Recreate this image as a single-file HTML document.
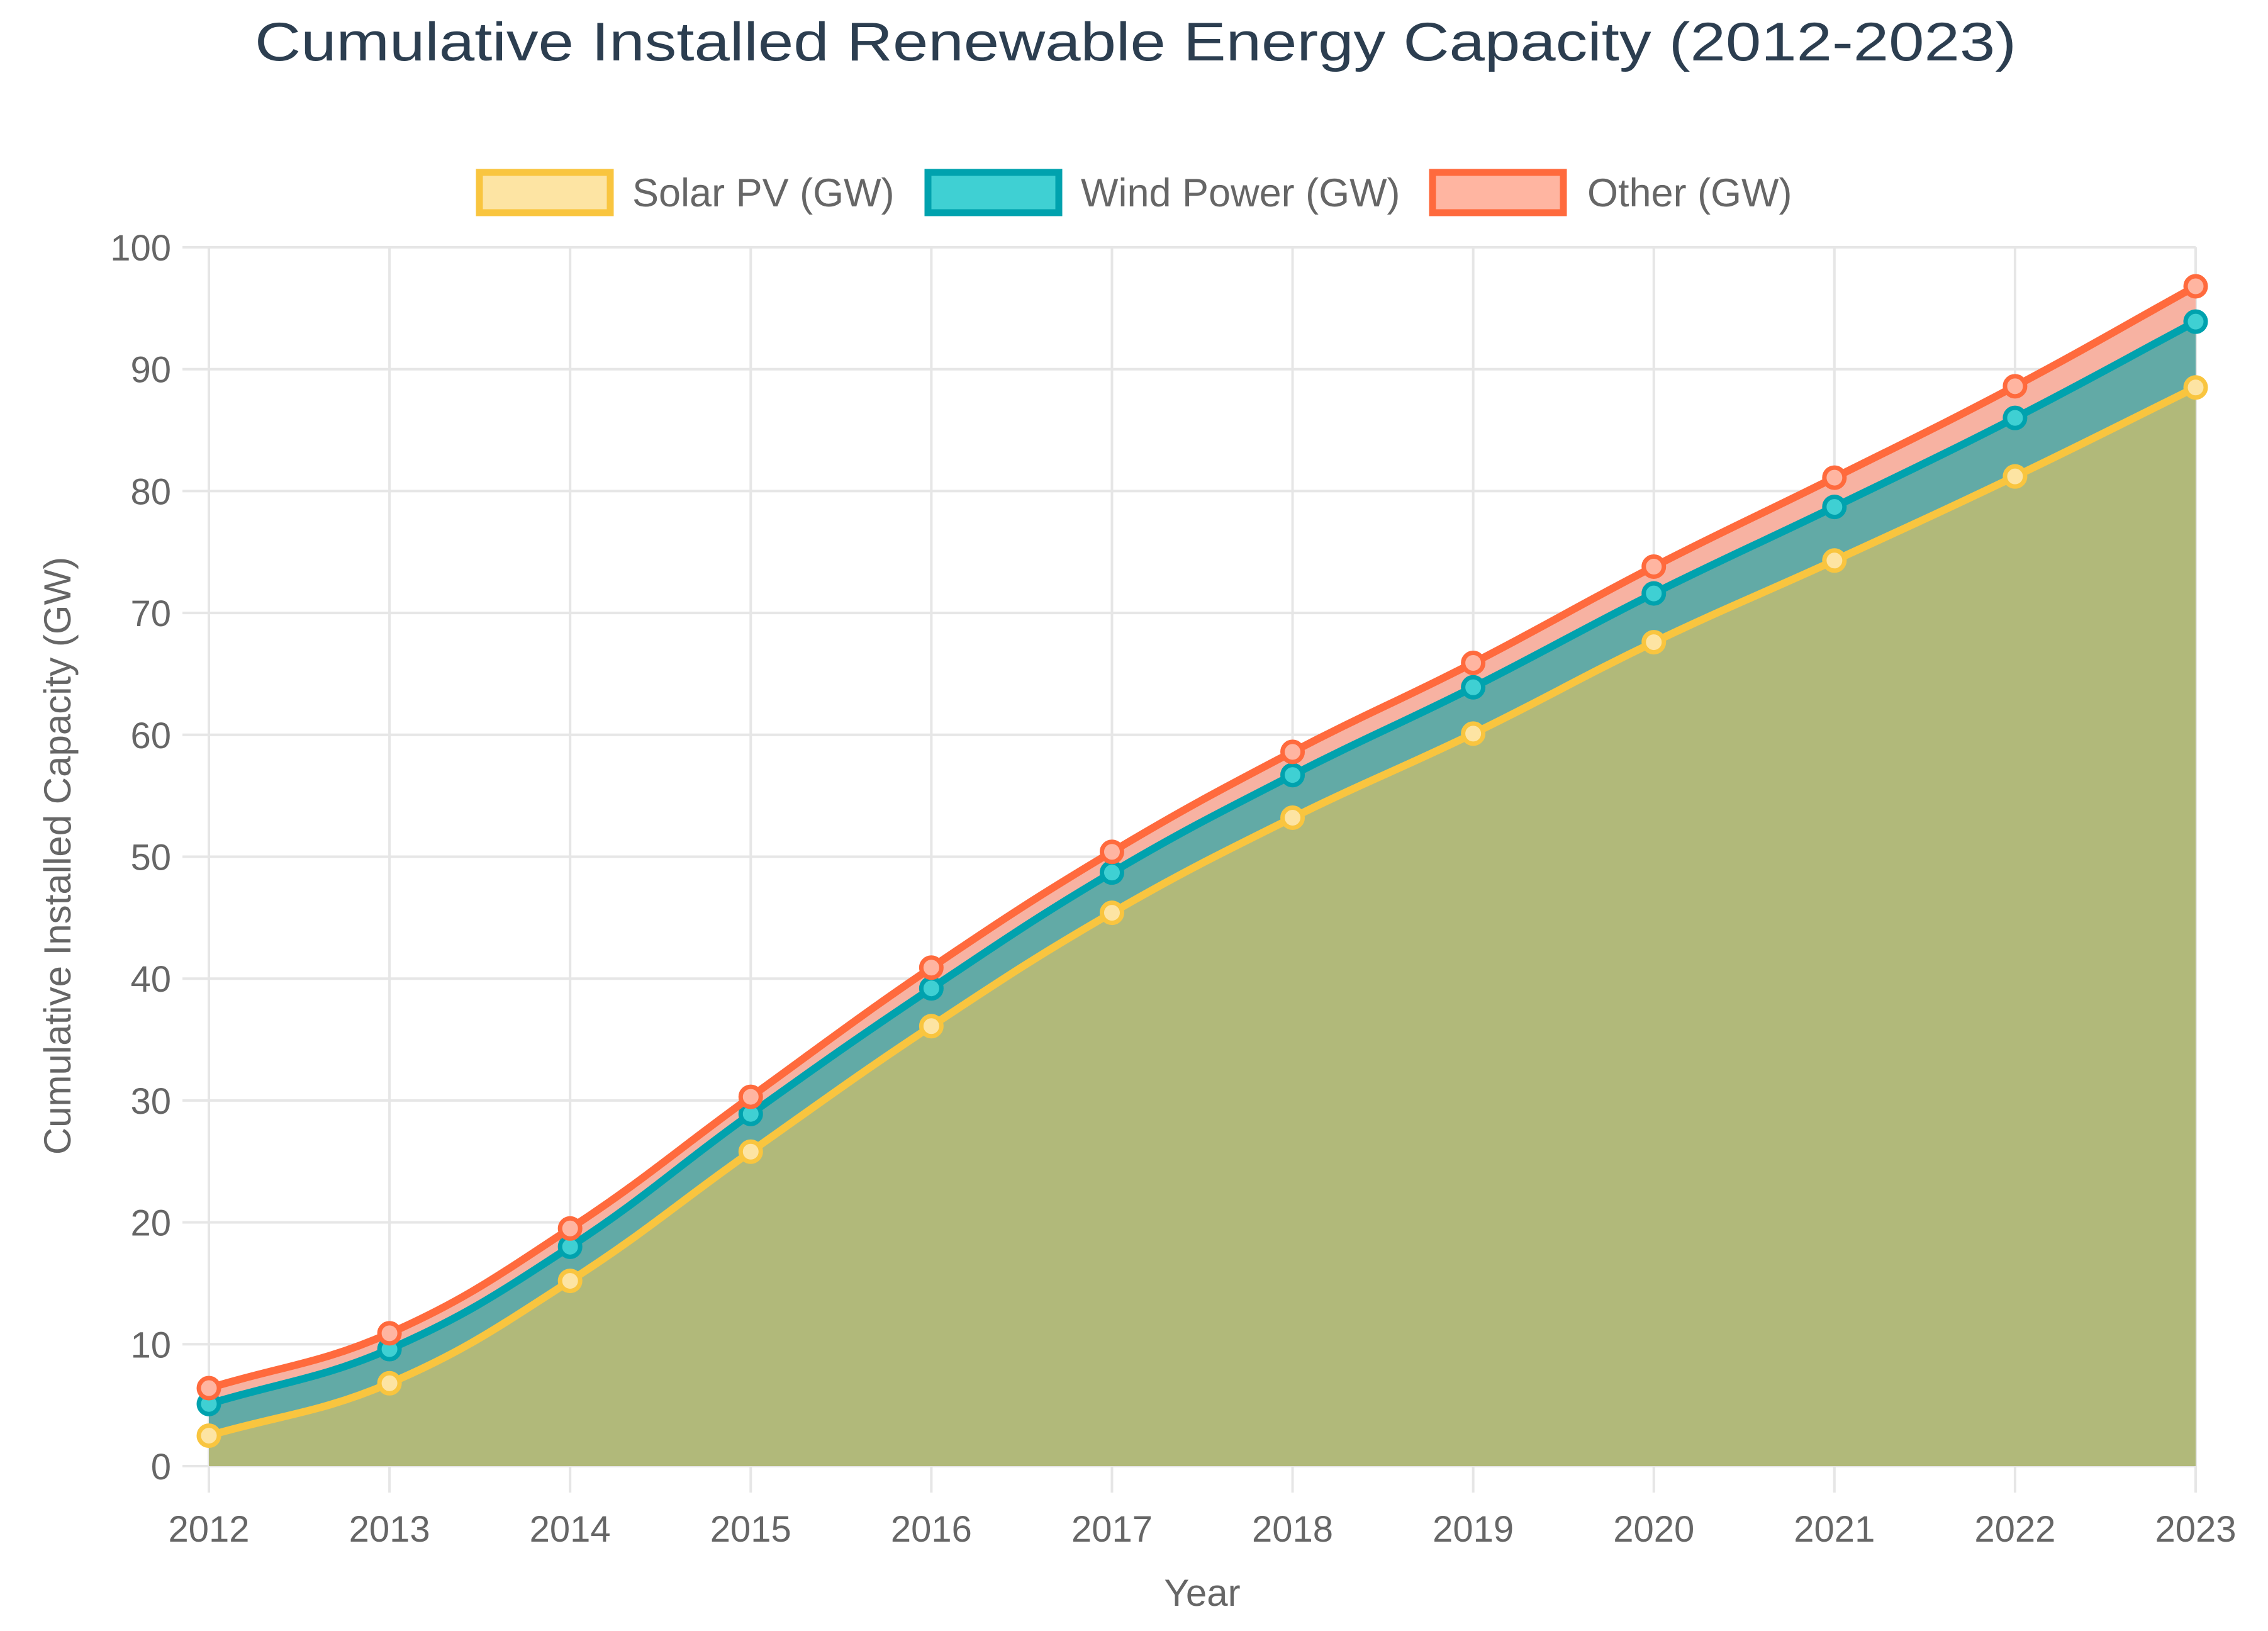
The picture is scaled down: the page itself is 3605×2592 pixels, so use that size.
<!DOCTYPE html>
<html><head><meta charset="utf-8"><style>
html,body{margin:0;padding:0;background:#fff;}
svg{display:block;font-family:"Liberation Sans",Arial,sans-serif;}
</style></head><body>
<svg id="chart" width="3605" height="2592" viewBox="0 0 3605 2592" xmlns="http://www.w3.org/2000/svg">
<text x="1805" y="96" text-anchor="middle" font-size="86" fill="#2c3e50" textLength="2800" lengthAdjust="spacingAndGlyphs">Cumulative Installed Renewable Energy Capacity (2012-2023)</text>
<g>
 <g>
  <rect x="762" y="274" width="208" height="64" fill="#fde4a3" stroke="#f9c53f" stroke-width="11"/>
  <text x="1005" y="328" font-size="63" fill="#666">Solar PV (GW)</text>
 </g>
 <g>
  <rect x="1475" y="274" width="208" height="64" fill="#3fd0d3" stroke="#00a2ae" stroke-width="11"/>
  <text x="1718" y="328" font-size="63" fill="#666">Wind Power (GW)</text>
 </g>
 <g>
  <rect x="2277" y="274" width="208" height="64" fill="#ffb5a1" stroke="#ff6a3d" stroke-width="11"/>
  <text x="2523" y="328" font-size="63" fill="#666">Other (GW)</text>
 </g>
</g>
<g id="grid"></g>
<g id="areas"></g>
<g id="lines"></g>
<g id="axes"></g>
<text x="1911" y="2552" text-anchor="middle" font-size="60" fill="#666">Year</text>
<text transform="translate(112,1360) rotate(-90)" text-anchor="middle" font-size="60" fill="#666">Cumulative Installed Capacity (GW)</text>
</svg>
<script>
const years = ['2012','2013','2014','2015','2016','2017','2018','2019','2020','2021','2022','2023'];
const solar = [2.5, 6.8, 15.2, 25.8, 36.1, 45.4, 53.2, 60.1, 67.6, 74.3, 81.2, 88.5];
const wind = [2.6, 2.8, 2.8, 3.1, 3.1, 3.3, 3.5, 3.8, 4.0, 4.4, 4.8, 5.4];
const other = [1.3, 1.3, 1.5, 1.4, 1.7, 1.7, 1.9, 2.0, 2.2, 2.4, 2.6, 2.9];
const yTicks = [0,10,20,30,40,50,60,70,80,90,100];

const NS='http://www.w3.org/2000/svg';
const X0=332, X1=3490, Y0=2330, Y1=393;
function xs(i){return X0+(X1-X0)*i/(years.length-1);}
function ys(v){return Y0-(Y0-Y1)*v/100;}
function mk(tag,attrs,parent){const e=document.createElementNS(NS,tag);for(const k in attrs)e.setAttribute(k,attrs[k]);parent.appendChild(e);return e;}
const grid=document.getElementById('grid'),areas=document.getElementById('areas'),lines=document.getElementById('lines'),axes=document.getElementById('axes');

yTicks.forEach(t=>{
  const l=mk('line',{x1:290,x2:X1,y1:ys(t),y2:ys(t),stroke:'#e6e6e6','stroke-width':4},grid);
  
  
  const tx=mk('text',{x:272,y:ys(t)+21,'text-anchor':'end','font-size':58,fill:'#666'},axes);
  tx.textContent=t;
  
  
});
years.forEach((yr,i)=>{
  const l=mk('line',{x1:xs(i),x2:xs(i),y1:Y1,y2:2372,stroke:'#e6e6e6','stroke-width':4},grid);
  
  
  const tx=mk('text',{x:xs(i),y:2450,'text-anchor':'middle','font-size':58,fill:'#666'},axes);
  tx.textContent=yr;
  
  
});

const s1=solar.slice();
const s2=solar.map((v,i)=>v+wind[i]);
const s3=s2.map((v,i)=>v+other[i]);
function pts(arr){return arr.map((v,i)=>[xs(i),ys(v)]);}
function ctrl(p){
  const t=0.4,c=[];
  for(let i=0;i<p.length;i++){
    const prev=p[Math.max(0,i-1)],cur=p[i],next=p[Math.min(p.length-1,i+1)];
    const d01=Math.hypot(cur[0]-prev[0],cur[1]-prev[1]),d12=Math.hypot(next[0]-cur[0],next[1]-cur[1]);
    let s01=d01/(d01+d12)||0,s12=d12/(d01+d12)||0;
    const fa=t*s01,fb=t*s12;
    c.push({p:[cur[0]-fa*(next[0]-prev[0]),cur[1]-fa*(next[1]-prev[1])],n:[cur[0]+fb*(next[0]-prev[0]),cur[1]+fb*(next[1]-prev[1])]});
  }
  return c;
}
function pathFwd(p){const c=ctrl(p);let d='';for(let i=1;i<p.length;i++){d+=` C${c[i-1].n[0]},${c[i-1].n[1]} ${c[i].p[0]},${c[i].p[1]} ${p[i][0]},${p[i][1]}`;}return d;}
function pathBack(p){const c=ctrl(p);let d='';for(let i=p.length-1;i>0;i--){d+=` C${c[i].p[0]},${c[i].p[1]} ${c[i-1].n[0]},${c[i-1].n[1]} ${p[i-1][0]},${p[i-1][1]}`;}return d;}
const p1=pts(s1),p2=pts(s2),p3=pts(s3);
let a=mk('path',{d:`M${p3[0][0]},${p3[0][1]}`+pathFwd(p3)+` L${p2[p2.length-1][0]},${p2[p2.length-1][1]}`+pathBack(p2)+'Z',fill:'#f7b2a2'},areas);


a=mk('path',{d:`M${p2[0][0]},${p2[0][1]}`+pathFwd(p2)+` L${p1[p1.length-1][0]},${p1[p1.length-1][1]}`+pathBack(p1)+'Z',fill:'#62aaa6'},areas);


a=mk('path',{d:`M${p1[0][0]},${p1[0][1]}`+pathFwd(p1)+` L${X1},${Y0} L${X0},${Y0}Z`,fill:'#b1b97a'},areas);



[[p1,'#f9c53f','#fde4a3','solar'],[p2,'#00a2ae','#3fd0d3','wind'],[p3,'#ff6a3d','#ffb5a1','other']].forEach(([p,col,fillc,nm])=>{
  const l=mk('path',{d:`M${p[0][0]},${p[0][1]}`+pathFwd(p),fill:'none',stroke:col,'stroke-width':12,'stroke-linejoin':'round'},lines);
  
  
  p.forEach(q=>{
    const c=mk('circle',{cx:q[0],cy:q[1],r:16,fill:fillc,stroke:col,'stroke-width':7},lines);
    
    
  });
});
</script>
</body></html>
